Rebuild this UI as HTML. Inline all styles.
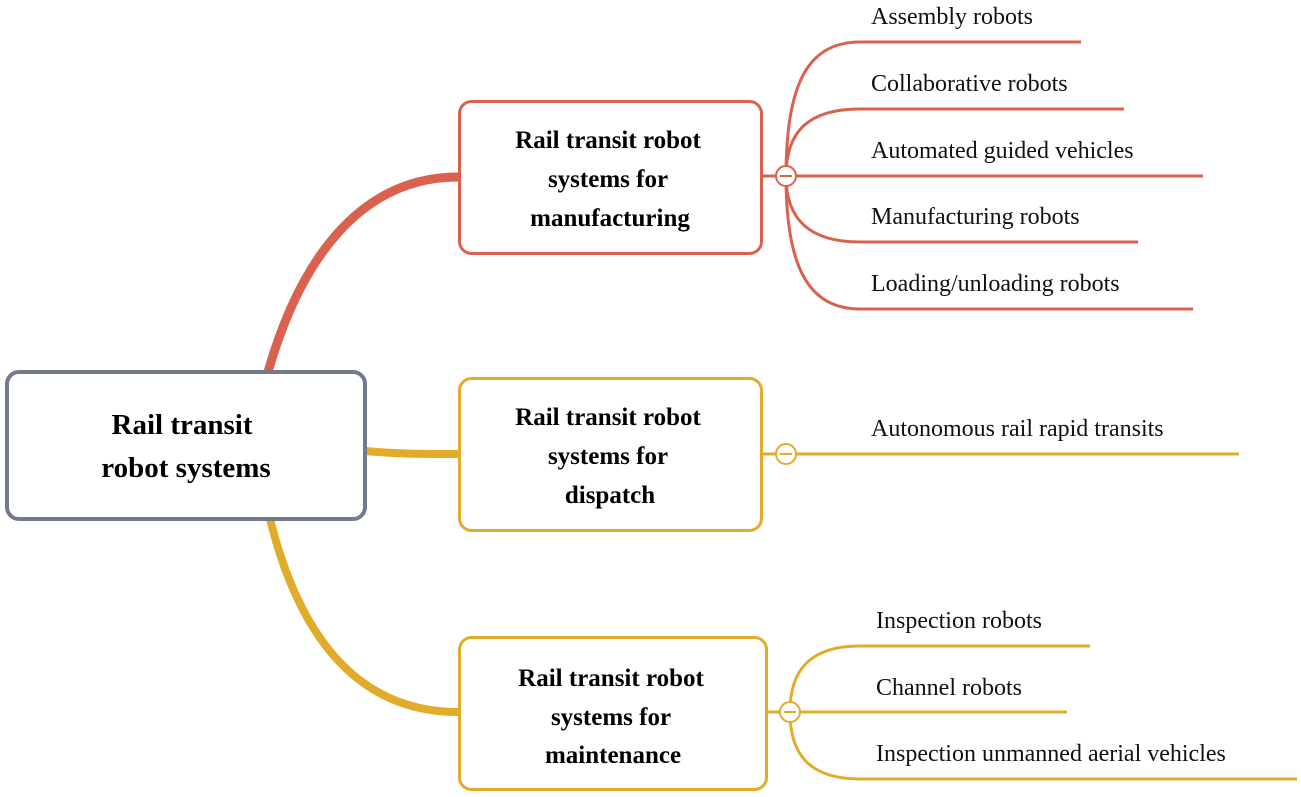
<!DOCTYPE html>
<html><head><meta charset="utf-8"><style>
body{margin:0;background:#fff;}
svg{display:block}
.b{font-family:"Liberation Serif",serif;font-weight:bold;font-size:25px;fill:#000;text-anchor:middle}
.l{font-family:"Liberation Serif",serif;font-size:24px;fill:#111}
</style></head><body>
<svg width="1301" height="797" viewBox="0 0 1301 797" xmlns="http://www.w3.org/2000/svg">
<g fill="none">
<path d="M268,372 C300,260 360,177 458,177" stroke="#d9614e" stroke-width="9"/>
<path d="M458,177 L440,177" stroke="#d9614e" stroke-width="3"/>
<path d="M365,451 C400,454 420,454 458,454" stroke="#e2ac2b" stroke-width="8"/>
<path d="M270,519 C300,640 360,712 458,712" stroke="#e2ac2b" stroke-width="8"/>
<g stroke="#d9614e" stroke-width="3">
<path d="M763,176 L1203,176"/>
<path d="M786,176 C786,80 810,42 860,42 L1081,42"/>
<path d="M786,176 C786,130 810,109 860,109 L1124,109"/>
<path d="M786,176 C786,220 810,242 860,242 L1138,242"/>
<path d="M786,176 C786,270 810,309 860,309 L1193,309"/>
</g>
<circle cx="786" cy="176" r="10" fill="#fff" stroke="#d9614e" stroke-width="2"/>
<line x1="780" y1="176" x2="792" y2="176" stroke="#d9614e" stroke-width="2"/>
<g stroke="#e2ac2b" stroke-width="3">
<path d="M763,454 L1239,454"/>
<path d="M768,712 L1067,712"/>
<path d="M790,712 C790,670 810,646 860,646 L1090,646"/>
<path d="M790,712 C790,755 810,779 860,779 L1297,779"/>
</g>
<circle cx="786" cy="454" r="10" fill="#fff" stroke="#e2ac2b" stroke-width="2"/>
<line x1="780" y1="454" x2="792" y2="454" stroke="#e2ac2b" stroke-width="2"/>
<circle cx="790" cy="712" r="10" fill="#fff" stroke="#e2ac2b" stroke-width="2"/>
<line x1="784" y1="712" x2="796" y2="712" stroke="#e2ac2b" stroke-width="2"/>
<rect x="7" y="372" width="358" height="147" rx="12" fill="#fff" stroke="#737a8f" stroke-width="4"/>
<rect x="459.5" y="101.5" width="302" height="152" rx="12" fill="#fff" stroke="#d9614e" stroke-width="3"/>
<rect x="459.5" y="378.5" width="302" height="152" rx="12" fill="#fff" stroke="#e2ac2b" stroke-width="3"/>
<rect x="459.5" y="637.5" width="307" height="152" rx="12" fill="#fff" stroke="#e2ac2b" stroke-width="3"/>
</g>
<text class="b" style="font-size:29px" x="182" y="434">Rail transit</text>
<text class="b" style="font-size:29px" x="186" y="477">robot systems</text>
<text class="b" x="608" y="148">Rail transit robot</text>
<text class="b" x="608" y="187">systems for</text>
<text class="b" x="610" y="226">manufacturing</text>
<text class="b" x="608" y="425">Rail transit robot</text>
<text class="b" x="608" y="464">systems for</text>
<text class="b" x="610" y="503">dispatch</text>
<text class="b" x="611" y="686">Rail transit robot</text>
<text class="b" x="611" y="725">systems for</text>
<text class="b" x="613" y="763">maintenance</text>
<text class="l" x="871" y="24">Assembly robots</text>
<text class="l" x="871" y="91">Collaborative robots</text>
<text class="l" x="871" y="158">Automated guided vehicles</text>
<text class="l" x="871" y="224">Manufacturing robots</text>
<text class="l" x="871" y="291">Loading/unloading robots</text>
<text class="l" x="871" y="436">Autonomous rail rapid transits</text>
<text class="l" x="876" y="628">Inspection robots</text>
<text class="l" x="876" y="695">Channel robots</text>
<text class="l" x="876" y="761">Inspection unmanned aerial vehicles</text>
</svg>
</body></html>
